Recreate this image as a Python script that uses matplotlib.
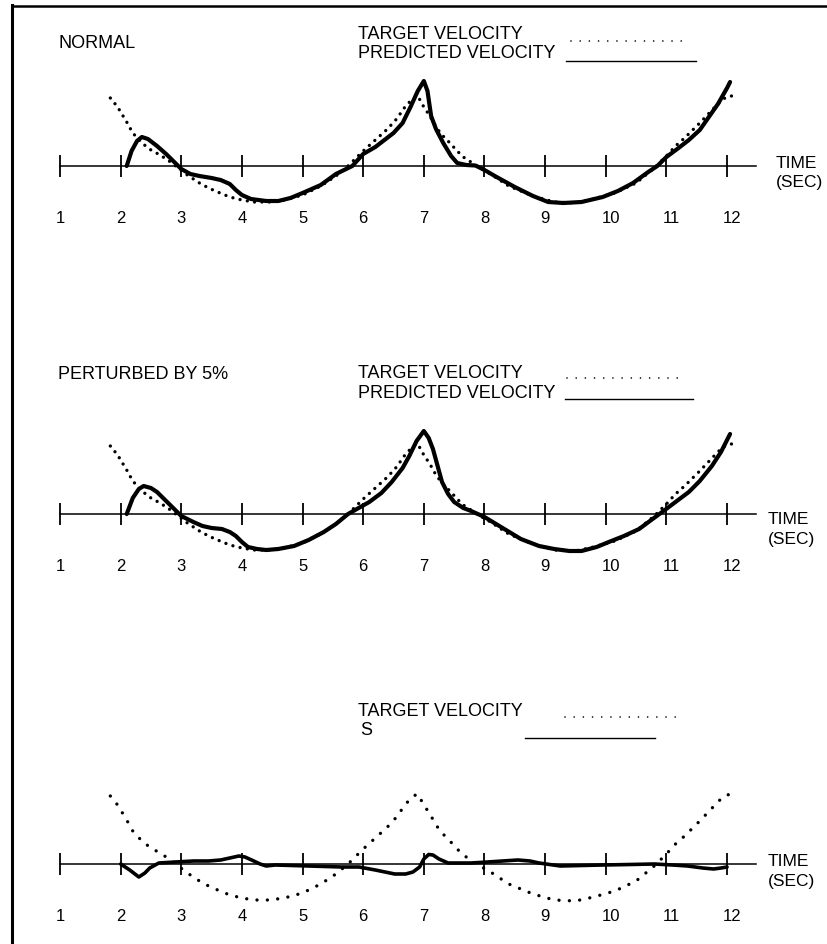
import matplotlib.pyplot as plt
from matplotlib.lines import Line2D
from matplotlib.transforms import ScaledTranslation

plt.rcParams['font.family'] = ['Liberation Sans', 'DejaVu Sans']

W, H = 828, 945

time_ticks = list(range(1, 13))

# target velocity (same target in all three runs)
target_t = [1.83, 1.95, 2.1, 2.2, 2.35, 2.5, 2.65, 2.8, 2.95, 3.1, 3.3, 3.45,
            3.6, 3.8, 4.0, 4.2, 4.45, 4.7, 5.0, 5.3, 5.55, 5.75, 6.0, 6.2,
            6.4, 6.55, 6.7, 6.83, 6.9, 7.0, 7.1, 7.2, 7.3, 7.43, 7.55, 7.65,
            7.8, 7.9, 8.1, 8.4, 8.8, 9.15, 9.5, 9.8, 10.15, 10.5, 10.8, 11.0,
            11.15, 11.3, 11.55, 11.77, 11.93, 12.05, 12.13]
target_v = [6.8, 5.9, 4.4, 3.3, 2.3, 1.6, 1.1, 0.5, -0.2, -0.9, -1.7, -2.2,
            -2.6, -3.1, -3.4, -3.6, -3.6, -3.4, -2.9, -2.0, -1.0, 0.0, 1.5, 2.6,
            3.7, 4.7, 6.0, 6.8, 7.0, 5.9, 5.0, 3.9, 3.1, 2.3, 1.5, 0.9,
            0.3, -0.1, -0.8, -2.0, -3.0, -3.6, -3.7, -3.3, -2.7, -1.7, -0.2, 1.0,
            2.0, 2.8, 4.3, 5.7, 6.7, 7.0, 7.0]

# predicted velocity, normal network
normal_t = [2.1, 2.18, 2.27, 2.35, 2.45, 2.6, 2.75, 2.9, 3.0, 3.15, 3.3, 3.5,
            3.65, 3.8, 3.9, 4.0, 4.15, 4.4, 4.6, 4.8, 5.0, 5.3, 5.55, 5.82,
            6.0, 6.2, 6.5, 6.65, 6.78, 6.9, 7.0, 7.06, 7.12, 7.2, 7.32, 7.45,
            7.55, 7.7, 7.85, 8.0, 8.2, 8.5, 8.8, 9.05, 9.3, 9.6, 9.95, 10.2,
            10.45, 10.7, 10.85, 11.0, 11.2, 11.37, 11.55, 11.7, 11.85, 12.0, 12.05]
normal_v = [0.0, 1.5, 2.5, 2.9, 2.7, 2.0, 1.2, 0.3, -0.3, -0.8, -1.0, -1.2,
            -1.4, -1.8, -2.4, -2.9, -3.3, -3.5, -3.5, -3.2, -2.7, -1.9, -0.8, 0.0,
            1.2, 1.9, 3.3, 4.3, 5.9, 7.5, 8.5, 7.5, 5.0, 3.7, 2.3, 1.0,
            0.3, 0.1, 0.05, -0.4, -1.1, -2.1, -3.0, -3.6, -3.7, -3.6, -3.1, -2.5,
            -1.7, -0.6, 0.0, 0.9, 1.8, 2.6, 3.6, 4.9, 6.2, 7.8, 8.4]

# predicted velocity, weights perturbed by 5%
perturbed_t = [2.1, 2.2, 2.3, 2.38, 2.5, 2.6, 2.8, 3.0, 3.2, 3.35, 3.5, 3.67,
               3.8, 3.9, 4.0, 4.1, 4.25, 4.4, 4.6, 4.86, 5.1, 5.35, 5.55, 5.75,
               6.1, 6.3, 6.47, 6.65, 6.76, 6.88, 7.0, 7.08, 7.15, 7.3, 7.4, 7.5,
               7.65, 7.78, 8.0, 8.3, 8.6, 8.9, 9.15, 9.4, 9.6, 9.85, 10.05, 10.3,
               10.55, 10.75, 10.93, 11.15, 11.37, 11.55, 11.75, 11.9, 12.05]
perturbed_v = [0.0, 1.6, 2.5, 2.8, 2.6, 2.2, 1.0, -0.2, -0.8, -1.2, -1.4, -1.5,
               -1.8, -2.2, -2.8, -3.3, -3.5, -3.6, -3.5, -3.2, -2.6, -1.8, -1.0, 0.0,
               1.2, 2.1, 3.2, 4.6, 5.8, 7.3, 8.3, 7.6, 6.5, 3.2, 2.0, 1.2,
               0.6, 0.3, -0.3, -1.4, -2.5, -3.2, -3.5, -3.7, -3.7, -3.3, -2.8, -2.2,
               -1.5, -0.6, 0.2, 1.2, 2.2, 3.3, 4.8, 6.2, 8.0]

# third run
s_t = [2.0, 2.15, 2.3, 2.4, 2.48, 2.63, 2.9, 3.2, 3.45, 3.65, 3.8, 3.95,
       4.05, 4.16, 4.3, 4.4, 4.55, 5.1, 5.65, 5.93, 6.2, 6.52, 6.7, 6.82,
       6.93, 7.0, 7.08, 7.15, 7.25, 7.4, 7.78, 8.05, 8.3, 8.55, 8.75, 8.9,
       9.25, 9.95, 10.4, 10.8, 11.1, 11.35, 11.6, 11.78, 11.9, 12.0]
s_v = [0.0, -0.6, -1.3, -0.9, -0.4, 0.1, 0.2, 0.3, 0.3, 0.4, 0.6, 0.8,
       0.7, 0.4, 0.0, -0.2, -0.1, -0.2, -0.3, -0.3, -0.6, -1.0, -1.0, -0.8,
       -0.3, 0.5, 0.95, 0.9, 0.5, 0.1, 0.1, 0.2, 0.3, 0.4, 0.3, 0.1,
       -0.2, -0.1, -0.05, 0.0, -0.1, -0.2, -0.4, -0.5, -0.4, -0.3]

fig = plt.figure(figsize=(W / 100, H / 100), dpi=100)

def fx(x):
    return x / W

def fy(y):
    return 1 - y / H

# t=1 sits at x=60 px, 60.64 px per second
X0 = 1 - 60 / 60.64
X1 = 1 + (W - 60) / 60.64


def panel(axis_y, pred_t, pred_v, pred_lw, dot_gap):
    ax = fig.add_axes([0, fy(axis_y + 60), 1, 180 / H])
    ax.set_xlim(X0, X1)
    ax.set_ylim(-6, 12)
    ax.patch.set_alpha(0)
    for s in ['top', 'right', 'left']:
        ax.spines[s].set_visible(False)
    ax.spines['bottom'].set_position(('data', 0))
    ax.spines['bottom'].set_bounds(1, 12.47)
    ax.spines['bottom'].set_linewidth(1.1)
    ax.set_yticks([])
    ax.set_xticks(time_ticks)
    ax.set_xticklabels([str(t) for t in time_ticks])
    ax.tick_params(axis='x', direction='inout', length=16, width=1.3,
                   pad=24, labelsize=12)
    # two-digit labels sit a little right of their ticks
    nudge = ScaledTranslation(5 / 100, 0, fig.dpi_scale_trans)
    for lab in ax.get_xticklabels():
        if len(lab.get_text()) > 1:
            lab.set_transform(lab.get_transform() + nudge)
    ax.plot(target_t, target_v, color='black', lw=2.4,
            linestyle=(0, (0.01, dot_gap)), dash_capstyle='round', clip_on=False)
    ax.plot(pred_t, pred_v, color='black', lw=pred_lw,
            solid_capstyle='round', solid_joinstyle='round', clip_on=False)
    return ax


panel(167, normal_t, normal_v, 3.0, 2.2)
panel(515, perturbed_t, perturbed_v, 3.0, 2.2)
panel(865, s_t, s_v, 2.6, 3.1)

# text labels
def label(x, y, s, size=13):
    fig.text(fx(x), fy(y), s, ha='left', va='center', fontsize=size)

def key(y_dots, dots, y_line, line):
    fig.add_artist(Line2D([fx(dots[0]), fx(dots[1])], [fy(y_dots), fy(y_dots)],
                          transform=fig.transFigure, color='black', lw=1.2,
                          linestyle=(0, (0.01, 5.5)), dash_capstyle='round'))
    fig.add_artist(Line2D([fx(line[0]), fx(line[1])], [fy(y_line), fy(y_line)],
                          transform=fig.transFigure, color='black', lw=1.0))

label(58, 43, 'NORMAL')
label(358, 35, 'TARGET VELOCITY')
label(358, 54, 'PREDICTED VELOCITY')
key(42, (571, 684), 62, (566, 696))
label(776, 163, 'TIME', 12.5)
label(776, 182, '(SEC)', 12.5)

label(58, 375, 'PERTURBED BY 5%')
label(358, 373, 'TARGET VELOCITY')
label(358, 393, 'PREDICTED VELOCITY')
key(379, (567, 683), 400, (565, 693))
label(768, 520, 'TIME', 12.5)
label(768, 540, '(SEC)', 12.5)

label(358, 712, 'TARGET VELOCITY')
label(360, 731, 'S')
key(718, (565, 676), 739, (525, 655))
label(768, 862, 'TIME', 12.5)
label(768, 882, '(SEC)', 12.5)

# page frame, left and top edges
fig.add_artist(Line2D([fx(12), fx(12)], [fy(6), fy(H)], transform=fig.transFigure,
                      color='black', lw=2.2))
fig.add_artist(Line2D([fx(12), fx(W)], [fy(7), fy(7)], transform=fig.transFigure,
                      color='black', lw=1.8))

fig.savefig('out.png', dpi=100, facecolor='white')
